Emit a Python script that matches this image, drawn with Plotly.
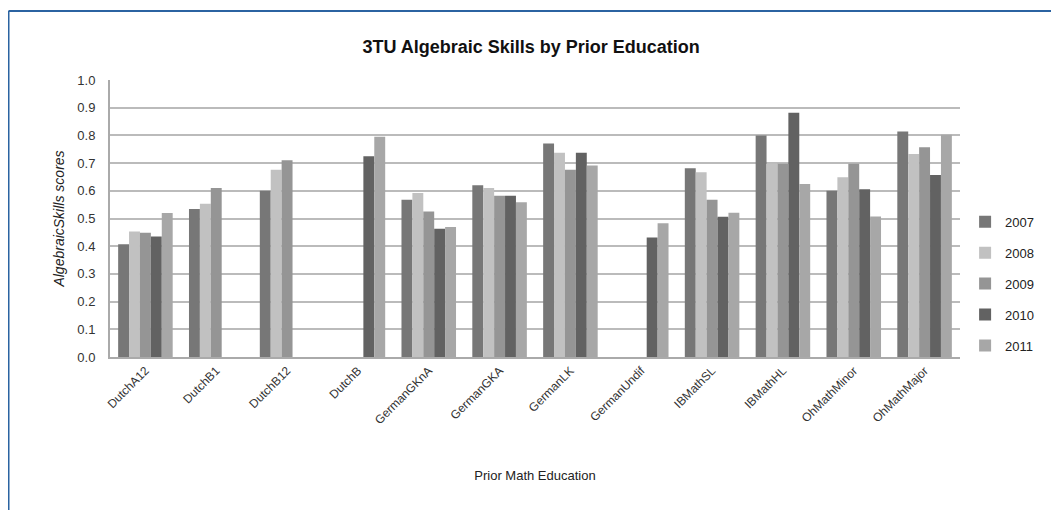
import plotly.graph_objects as go

CATEGORIES = ["DutchA12", "DutchB1", "DutchB12", "DutchB", "GermanGKnA", "GermanGKA",
              "GermanLK", "GermanUndif", "IBMathSL", "IBMathHL", "OhMathMinor", "OhMathMajor"]

Y2007 = [0.407, 0.534, 0.600, None, 0.568, 0.620, 0.771, None, 0.681, 0.800, 0.600, 0.814]
Y2008 = [0.453, 0.553, 0.676, None, 0.592, 0.610, 0.737, None, 0.667, 0.698, 0.649, 0.733]
Y2009 = [0.449, 0.610, 0.710, None, 0.525, 0.582, 0.676, None, 0.568, 0.698, 0.698, 0.757]
Y2010 = [0.435, None, None, 0.725, 0.463, 0.582, 0.737, 0.431, 0.506, 0.882, 0.606, 0.657]
Y2011 = [0.520, None, None, 0.795, 0.469, 0.559, 0.691, 0.483, 0.521, 0.625, 0.507, 0.802]

SERIES = [
    ("2007", Y2007, "#777777"),
    ("2008", Y2008, "#c1c1c1"),
    ("2009", Y2009, "#959595"),
    ("2010", Y2010, "#626262"),
    ("2011", Y2011, "#a7a7a7"),
]

FONT = "Liberation Sans, Arial, Helvetica, sans-serif"

fig = go.Figure()
for name, values, color in SERIES:
    fig.add_trace(
        go.Bar(
            x=CATEGORIES,
            y=values,
            name=name,
            legendgroup=name,
            marker=dict(color=color, line=dict(width=0)),
        )
    )

# blue frame around the chart (cropped on the right and bottom)
frame = dict(type="line", xref="paper", yref="paper",
             line=dict(color="#2b63a1", width=2), layer="above")
fig.add_shape(**frame, x0=-0.1194, x1=1.2, y0=1.249, y1=1.249)
fig.add_shape(**frame, x0=-0.1194, x1=-0.1194, y0=1.249, y1=-0.6)

# the page body adds an 8px offset, margins compensate for it
fig.update_layout(
    width=1059,
    height=510,
    barmode="group",
    bargap=0.23,
    bargroupgap=0,
    plot_bgcolor="white",
    paper_bgcolor="white",
    font=dict(family=FONT, size=12, color="#222222"),
    title=dict(
        text="<b>3TU Algebraic Skills by Prior Education</b>",
        x=0.494, xanchor="center", y=0.9235, yanchor="middle",
        font=dict(size=18, color="#111111"),
    ),
    margin=dict(l=102, r=107, t=72, b=161, autoexpand=False),
    legend=dict(
        x=1.006, xanchor="left", y=0.264, yanchor="middle",
        font=dict(size=13, color="#222222"),
        itemwidth=30,
        tracegroupgap=11,
        bgcolor="rgba(0,0,0,0)",
    ),
    xaxis=dict(
        automargin=False,
        tickangle=-45,
        tickfont=dict(size=12, color="#333333"),
        showline=True, linecolor="#aaaaaa", linewidth=2,
        ticks="",
        title=dict(text="Prior Math Education", font=dict(size=13, color="#222222"), standoff=45),
    ),
    yaxis=dict(
        automargin=False,
        range=[0, 1.0],
        dtick=0.1,
        tickformat=".1f",
        showgrid=True, gridcolor="#bbbbbb", gridwidth=1.5,
        showline=True, linecolor="#aaaaaa", linewidth=2,
        zeroline=False,
        tickfont=dict(size=13, color="#333333"),
        ticks="outside", ticklen=10, tickcolor="white",
        title=dict(text="<i>AlgebraicSkills scores</i>", font=dict(size=14, color="#222222"), standoff=9),
    ),
)

fig.write_html("out.html")
